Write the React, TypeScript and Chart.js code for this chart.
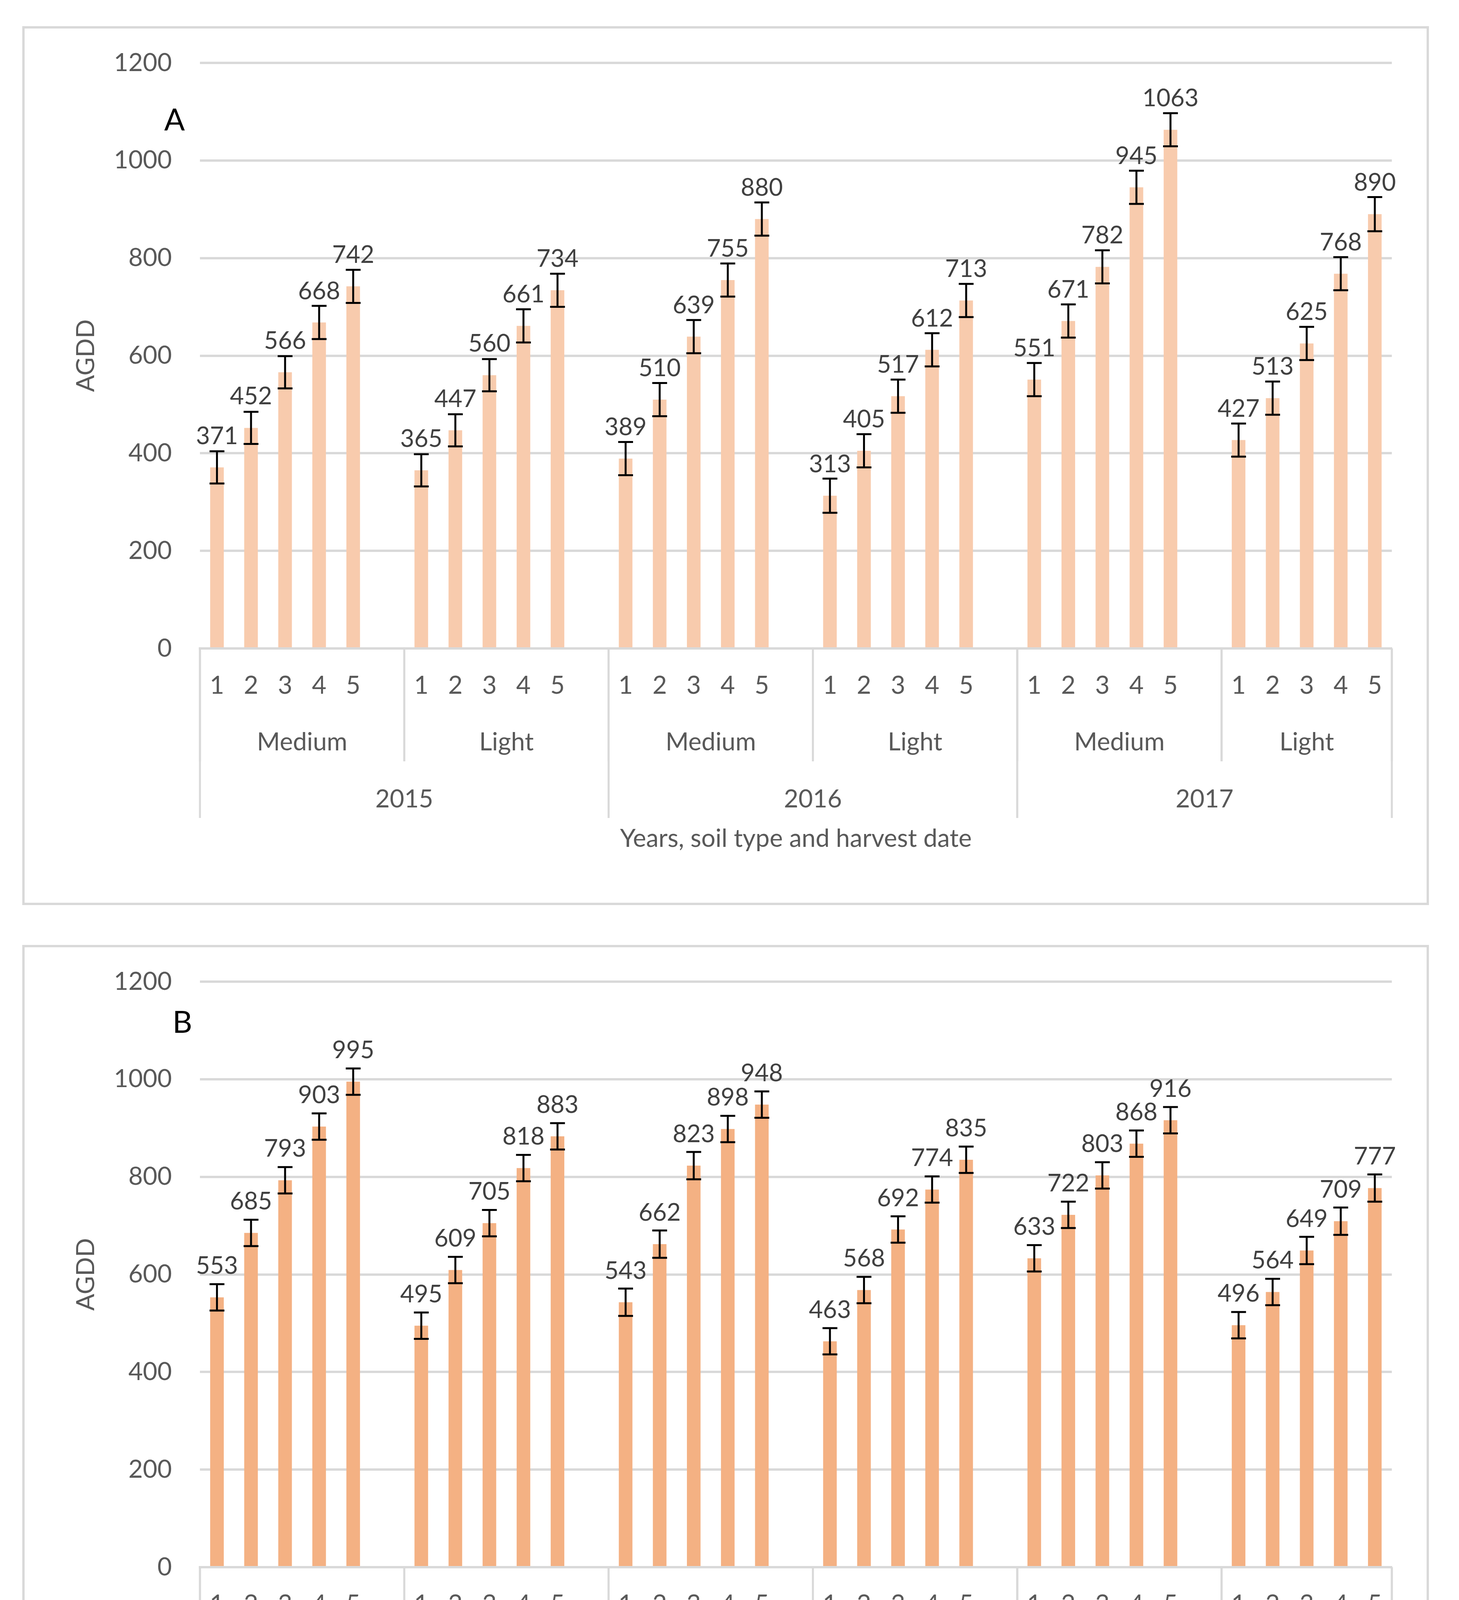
import React, { useEffect, useRef } from "react";
import { Chart, registerables } from "chart.js";

Chart.register(...registerables);

// ---- data ----
const years = ["2015", "2016", "2017"];
const soils = ["Medium", "Light"];
const harvestDates = ["1", "2", "3", "4", "5"];

const valuesA = [
  371, 452, 566, 668, 742,
  365, 447, 560, 661, 734,
  389, 510, 639, 755, 880,
  313, 405, 517, 612, 713,
  551, 671, 782, 945, 1063,
  427, 513, 625, 768, 890,
];
const errorsA = [
  33, 33, 33, 34, 34,
  33, 33, 33, 34, 34,
  34, 34, 34, 34, 34,
  35, 34, 34, 34, 34,
  34, 34, 34, 34, 34,
  34, 34, 34, 34, 35,
];
const valuesB = [
  553, 685, 793, 903, 995,
  495, 609, 705, 818, 883,
  543, 662, 823, 898, 948,
  463, 568, 692, 774, 835,
  633, 722, 803, 868, 916,
  496, 564, 649, 709, 777,
];
const errorsB = [
  27, 27, 27, 27, 27,
  27, 27, 27, 27, 27,
  28, 28, 28, 27, 27,
  27, 27, 27, 27, 27,
  27, 27, 27, 27, 27,
  27, 27, 28, 28, 28,
];
const yTicks = [0, 200, 400, 600, 800, 1000, 1200];

// ---- category structure (Excel style multi-level axis, blank slot between soil groups) ----
type Slot = { label: string; src: number | null };
const slots: Slot[] = [];
const soilGroups: { label: string; start: number; end: number }[] = [];
const yearGroups: { label: string; start: number; end: number }[] = [];
{
  let k = 0;
  years.forEach((yr, yi) => {
    const yStart = slots.length;
    soils.forEach((s, si) => {
      const sStart = slots.length;
      harvestDates.forEach((h) => slots.push({ label: h, src: k++ }));
      const last = yi === years.length - 1 && si === soils.length - 1;
      if (!last) slots.push({ label: "", src: null });
      soilGroups.push({ label: s, start: sStart, end: slots.length - 1 });
    });
    yearGroups.push({ label: yr, start: yStart, end: slots.length - 1 });
  });
}
const categoryLabels = slots.map((s) => s.label);
const expand = (arr: number[]) => slots.map((s) => (s.src === null ? null : arr[s.src]));

const FONT = "Lato";
const TEXT = "#595959";
const GRID = "#D9D9D9";

type PanelProps = {
  top: number;
  values: number[];
  errors: number[];
  color: string;
  letter: string;
  letterX: number;
  letterY: number;
};

function Panel({ top, values, errors, color, letter, letterX, letterY }: PanelProps) {
  const ref = useRef<HTMLCanvasElement>(null);

  useEffect(() => {
    const data = expand(values);
    const errs = expand(errors);

    const overlay = {
      id: "overlay",
      afterDraw(chart: any) {
        const ctx = chart.ctx as CanvasRenderingContext2D;
        const xs = chart.scales.x;
        const ys = chart.scales.y;
        const meta = chart.getDatasetMeta(0);
        ctx.save();

        // error bars
        ctx.strokeStyle = "#000000";
        ctx.lineWidth = 5;
        ctx.lineCap = "butt";
        data.forEach((v, i) => {
          if (v === null) return;
          const e = errs[i] as number;
          const bx = meta.data[i].x;
          const yTop = ys.getPixelForValue(v + e);
          const yBot = ys.getPixelForValue(v - e);
          ctx.beginPath();
          ctx.moveTo(bx, yTop);
          ctx.lineTo(bx, yBot);
          ctx.moveTo(bx - 19, yTop);
          ctx.lineTo(bx + 19, yTop);
          ctx.moveTo(bx - 19, yBot);
          ctx.lineTo(bx + 19, yBot);
          ctx.stroke();
        });

        // data labels
        ctx.fillStyle = "#404040";
        ctx.font = `62px ${FONT}`;
        ctx.textAlign = "center";
        ctx.textBaseline = "middle";
        data.forEach((v, i) => {
          if (v === null) return;
          const bx = meta.data[i].x;
          ctx.fillText(String(v), bx, ys.getPixelForValue(v) - 80);
        });

        // multi-level category axis
        const axisY = ys.getPixelForValue(0);
        const half = (xs.getPixelForValue(1) - xs.getPixelForValue(0)) / 2;
        const leftOf = (i: number) => xs.getPixelForValue(i) - half;
        const rightOf = (i: number) => xs.getPixelForValue(i) + half;

        ctx.strokeStyle = GRID;
        ctx.lineWidth = 5;
        soilGroups.forEach((g) => {
          [leftOf(g.start), rightOf(g.end)].forEach((px) => {
            ctx.beginPath();
            ctx.moveTo(px, axisY);
            ctx.lineTo(px, axisY + 289);
            ctx.stroke();
          });
        });
        yearGroups.forEach((g) => {
          [leftOf(g.start), rightOf(g.end)].forEach((px) => {
            ctx.beginPath();
            ctx.moveTo(px, axisY);
            ctx.lineTo(px, axisY + 434);
            ctx.stroke();
          });
        });

        ctx.fillStyle = TEXT;
        ctx.font = `64px ${FONT}`;
        soilGroups.forEach((g) => {
          ctx.fillText(g.label, (leftOf(g.start) + rightOf(g.end)) / 2, axisY + 240);
        });
        yearGroups.forEach((g) => {
          ctx.fillText(g.label, (leftOf(g.start) + rightOf(g.end)) / 2, axisY + 386);
        });

        // panel letter
        ctx.fillStyle = "#000000";
        ctx.font = `78px ${FONT}`;
        ctx.fillText(letter, letterX, letterY);

        ctx.restore();
      },
    };

    const chart = new Chart(ref.current as HTMLCanvasElement, {
      type: "bar",
      data: {
        labels: categoryLabels,
        datasets: [
          {
            data: data as any,
            backgroundColor: color,
            borderWidth: 0,
            barPercentage: 0.4,
            categoryPercentage: 1.0,
          },
        ],
      },
      options: {
        animation: false,
        responsive: false,
        devicePixelRatio: 1,
        layout: { padding: { left: 0, top: 88, right: 89, bottom: 0 } },
        plugins: {
          legend: { display: false },
          tooltip: { enabled: false },
        },
        scales: {
          x: {
            type: "category",
            grid: { display: false, drawTicks: false },
            border: { display: true, color: GRID, width: 6 },
            ticks: {
              autoSkip: false,
              maxRotation: 0,
              minRotation: 0,
              padding: 57,
              color: TEXT,
              font: { family: FONT, size: 64 },
            },
            title: {
              display: true,
              text: "Years, soil type and harvest date",
              color: TEXT,
              font: { family: FONT, size: 64 },
              padding: { top: 0, bottom: 125 },
            },
            afterFit: (scale: any) => {
              scale.height = 651;
              scale.paddingLeft = 0;
              scale.paddingRight = 0;
            },
          },
          y: {
            min: 0,
            max: 1200,
            afterBuildTicks: (scale: any) => {
              scale.ticks = yTicks.map((v) => ({ value: v }));
            },
            grid: { color: GRID, lineWidth: 6, drawTicks: false },
            border: { display: false },
            ticks: {
              padding: 72,
              color: TEXT,
              font: { family: FONT, size: 64 },
              callback: (v: any) => String(v),
            },
            title: {
              display: true,
              text: "AGDD",
              color: TEXT,
              font: { family: FONT, size: 64 },
              padding: { top: 119, bottom: 0 },
            },
            afterFit: (scale: any) => {
              scale.width = 449;
              scale.paddingTop = 0;
              scale.paddingBottom = 0;
            },
          },
        },
      },
      plugins: [overlay],
    });
    return () => chart.destroy();
  }, []);

  return (
    <div
      style={{
        position: "absolute",
        left: 57,
        top,
        width: 3602,
        height: 2250,
        border: `6px solid ${GRID}`,
        boxSizing: "border-box",
        background: "#ffffff",
      }}
    >
      <canvas
        ref={ref}
        width={3590}
        height={2238}
        style={{ display: "block", width: 3590, height: 2238 }}
      />
    </div>
  );
}

export default function App() {
  return (
    <div
      style={{
        position: "absolute",
        left: 0,
        top: 0,
        width: 3736,
        height: 4736,
        background: "#ffffff",
        fontFamily: FONT,
      }}
    >
      <Panel
        top={67}
        values={valuesA}
        errors={errorsA}
        color="#F8CBAD"
        letter="A"
        letterX={384}
        letterY={236}
      />
      <Panel
        top={2419}
        values={valuesB}
        errors={errorsB}
        color="#F4B183"
        letter="B"
        letterX={404}
        letterY={194}
      />
    </div>
  );
}
